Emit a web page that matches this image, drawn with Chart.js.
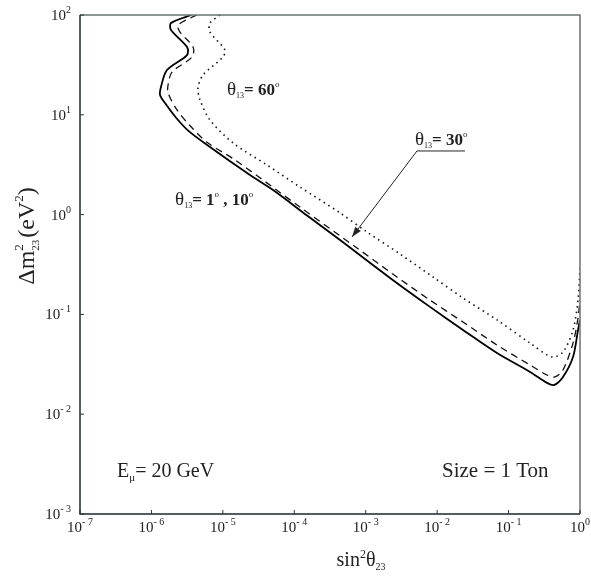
<!DOCTYPE html>
<html><head><meta charset="utf-8">
<script src="https://cdn.jsdelivr.net/npm/chart.js@4/dist/chart.umd.min.js"></script>
<style>html,body{margin:0;padding:0;background:#fff;}</style>
</head><body>
<canvas id="c" width="591" height="579"></canvas>
<script>
// Axis ticks (decades) and their exponent labels
const xTicks = [1e-7, 1e-6, 1e-5, 1e-4, 1e-3, 1e-2, 1e-1, 1];
const xTickExp = ["- 7", "- 6", "- 5", "- 4", "- 3", "- 2", "- 1", "0"];
const yTicks = [1e-3, 1e-2, 1e-1, 1, 10, 100];
const yTickExp = ["- 3", "- 2", "- 1", "0", "1", "2"];

// theta13 = 1deg, 10deg (solid)
const solidX = [3.6e-6, 1.88e-6, 1.88e-6, 3.15e-6, 3.15e-6, 1.65e-6, 1.36e-6, 1.32e-6, 1.55e-6, 2.2e-6, 3.3e-6, 6.6e-6, 2.4e-5, 5.04e-5, 1.51e-4, 4.37e-4, 2.19e-3, 7.94e-3, 0.023, 0.0689, 0.2, 0.345, 0.433, 0.578, 0.798, 0.938, 1.0];
const solidY = [100, 83, 70.7, 47.8, 39.7, 28.1, 19.0, 15.8, 13.1, 9.4, 6.9, 4.76, 2.49, 1.76, 0.98, 0.556, 0.232, 0.119, 0.0698, 0.041, 0.0265, 0.0206, 0.0196, 0.0236, 0.0374, 0.0698, 0.088];

// theta13 = 30deg (dashed)
const dashedX = [4.3e-6, 2.36e-6, 2.51e-6, 3.82e-6, 3.7e-6, 1.94e-6, 1.71e-6, 1.71e-6, 2.28e-6, 3.4e-6, 6.0e-6, 1.48e-5, 1.2e-4, 7.55e-4, 2.74e-3, 7.94e-3, 0.023, 0.0689, 0.2, 0.345, 0.447, 0.578, 0.798, 0.938, 1.0];
const dashedY = [100, 79.4, 67.5, 47.8, 37.9, 26.8, 19.9, 16.5, 11.2, 7.9, 5.3, 3.53, 1.19, 0.462, 0.237, 0.139, 0.0839, 0.0493, 0.0311, 0.0247, 0.0236, 0.0277, 0.0516, 0.092, 0.139];

// theta13 = 60deg (dotted)
const dottedX = [9.12e-6, 6.6e-6, 6.6e-6, 1.07e-5, 1.0e-5, 5.27e-6, 4.49e-6, 4.79e-6, 6.6e-6, 1.39e-5, 4.15e-5, 1.2e-4, 4.37e-4, 1.04e-3, 3.02e-3, 8.75e-3, 0.023, 0.0689, 0.2, 0.406, 0.578, 0.798, 0.938, 1.0];
const dottedY = [100, 83, 67.5, 44.6, 37.9, 25.0, 18.6, 14.1, 8.87, 5.22, 3.14, 1.89, 1.04, 0.67, 0.403, 0.237, 0.146, 0.088, 0.0516, 0.0374, 0.042, 0.0698, 0.139, 0.292];

const SERIF = "'Liberation Serif', 'Times New Roman', serif";
const INK = '#222';

function fnt(s) { return (s.b ? 'bold ' : '') + s.f + 'px ' + SERIF; }
function richText(ctx, x, y, segs, align) {
  let w = 0;
  for (const s of segs) { ctx.font = fnt(s); if (s.adv !== false) w += ctx.measureText(s.t).width + (s.sp || 0); }
  let cx = align === 'center' ? x - w / 2 : (align === 'right' ? x - w : x);
  ctx.textAlign = 'left';
  ctx.textBaseline = 'alphabetic';
  for (const s of segs) {
    ctx.font = fnt(s);
    ctx.fillText(s.t, cx, y + (s.dy || 0));
    if (s.adv !== false) cx += ctx.measureText(s.t).width + (s.sp || 0);
  }
}

const overlay = {
  id: 'overlay',
  afterDraw(chart) {
    const ctx = chart.ctx, a = chart.chartArea;
    const xs = chart.scales.x, ys = chart.scales.y;
    const px = v => xs.getPixelForValue(v), py = v => ys.getPixelForValue(v);
    ctx.save();
    // frame
    ctx.lineWidth = 1.5;
    ctx.strokeStyle = '#6b7272';
    ctx.beginPath(); ctx.moveTo(a.left, a.top); ctx.lineTo(a.right, a.top); ctx.lineTo(a.right, a.bottom); ctx.stroke();
    ctx.strokeStyle = '#1c2828';
    ctx.beginPath(); ctx.moveTo(a.left, a.top); ctx.lineTo(a.left, a.bottom); ctx.lineTo(a.right, a.bottom); ctx.stroke();
    // ticks
    ctx.lineWidth = 1;
    ctx.strokeStyle = '#333';
    ctx.beginPath();
    xTicks.forEach(v => { const x = px(v); ctx.moveTo(x, a.bottom); ctx.lineTo(x, a.bottom - 4); });
    yTicks.forEach(v => { const y = py(v); ctx.moveTo(a.left, y); ctx.lineTo(a.left + 4, y); });
    ctx.stroke();
    ctx.fillStyle = INK;
    // tick labels
    xTicks.forEach((v, i) => {
      richText(ctx, px(v), a.bottom + 18, [{t: '10', f: 15}, {t: xTickExp[i], f: 10, dy: -7}], 'center');
    });
    yTicks.forEach((v, i) => {
      richText(ctx, a.left - 9, py(v) + 5, [{t: '10', f: 15}, {t: yTickExp[i], f: 10, dy: -7}], 'right');
    });
    // axis titles
    richText(ctx, 361, 566, [
      {t: 'sin', f: 20}, {t: '2', f: 12, dy: -8}, {t: '\u03B8', f: 20}, {t: '23', f: 10, dy: 4}
    ], 'center');
    ctx.save();
    ctx.translate(34, 236);
    ctx.rotate(-Math.PI / 2);
    richText(ctx, 0, 0, [
      {t: '\u0394m', f: 24}, {t: '2', f: 13, dy: -11, adv: false}, {t: '23', f: 11, dy: 5, sp: 2},
      {t: '(eV', f: 24}, {t: '2', f: 13, dy: -11}, {t: ')', f: 24}
    ], 'center');
    ctx.restore();
    // curve labels
    richText(ctx, px(1.14e-5), py(15.8), [
      {t: '\u03B8', f: 19}, {t: '13', f: 8, dy: 3}, {t: '= 60', f: 17, b: true}, {t: 'o', f: 9, dy: -8}
    ], 'left');
    richText(ctx, px(2.14e-6), py(1.25), [
      {t: '\u03B8', f: 19}, {t: '13', f: 8, dy: 3}, {t: '= 1', f: 17, b: true}, {t: 'o', f: 9, dy: -8},
      {t: ' , 10', f: 17, b: true}, {t: 'o', f: 9, dy: -8}
    ], 'left');
    richText(ctx, px(4.9e-3), py(4.98), [
      {t: '\u03B8', f: 19}, {t: '13', f: 8, dy: 3}, {t: '= 30', f: 17, b: true}, {t: 'o', f: 9, dy: -8}
    ], 'left');
    richText(ctx, px(3.3e-7), py(2.35e-3), [
      {t: 'E', f: 20}, {t: '\u03BC', f: 11, dy: 4}, {t: '= 20 GeV', f: 20}
    ], 'left');
    richText(ctx, px(0.0117), py(2.35e-3), [{t: 'Size = 1 Ton', f: 21}], 'left');
    // arrow for theta13 = 30
    const tx = px(5.22e-3), ty = py(4.34), hx = px(6.43e-4), hy = py(0.597), ex = px(0.0245);
    ctx.strokeStyle = INK; ctx.lineWidth = 1;
    ctx.beginPath(); ctx.moveTo(ex, ty); ctx.lineTo(tx, ty); ctx.lineTo(hx, hy); ctx.stroke();
    const ang = Math.atan2(hy - ty, hx - tx), L = 10, W = 3.5;
    const bx = hx - L * Math.cos(ang), by = hy - L * Math.sin(ang);
    ctx.beginPath();
    ctx.moveTo(hx, hy);
    ctx.lineTo(bx + W * Math.sin(ang), by - W * Math.cos(ang));
    ctx.lineTo(bx - W * Math.sin(ang), by + W * Math.cos(ang));
    ctx.closePath(); ctx.fill();
    ctx.restore();
  }
};

const pts = (X, Y) => X.map((x, i) => ({x: x, y: Y[i]}));

new Chart(document.getElementById('c').getContext('2d'), {
  type: 'scatter',
  data: {
    datasets: [
      {label: 'theta13 = 1, 10', data: pts(solidX, solidY), showLine: true, borderColor: '#000', borderWidth: 1.8, pointRadius: 0, tension: 0.3, fill: false},
      {label: 'theta13 = 30', data: pts(dashedX, dashedY), showLine: true, borderColor: '#111', borderWidth: 1.3, borderDash: [7, 5], pointRadius: 0, tension: 0.3, fill: false},
      {label: 'theta13 = 60', data: pts(dottedX, dottedY), showLine: true, borderColor: '#111', borderWidth: 1.6, borderDash: [1.5, 4], pointRadius: 0, tension: 0.3, fill: false}
    ]
  },
  options: {
    responsive: false,
    animation: false,
    layout: {padding: {top: 15, right: 11, left: 0, bottom: 0}},
    plugins: {legend: {display: false}, tooltip: {enabled: false}},
    scales: {
      x: {type: 'logarithmic', min: 1e-7, max: 1, grid: {display: false}, border: {display: false}, ticks: {display: false}, afterFit(s) { s.height = 65; }},
      y: {type: 'logarithmic', min: 1e-3, max: 100, grid: {display: false}, border: {display: false}, ticks: {display: false}, afterFit(s) { s.width = 80; }}
    }
  },
  plugins: [overlay]
});
</script>
</body></html>
